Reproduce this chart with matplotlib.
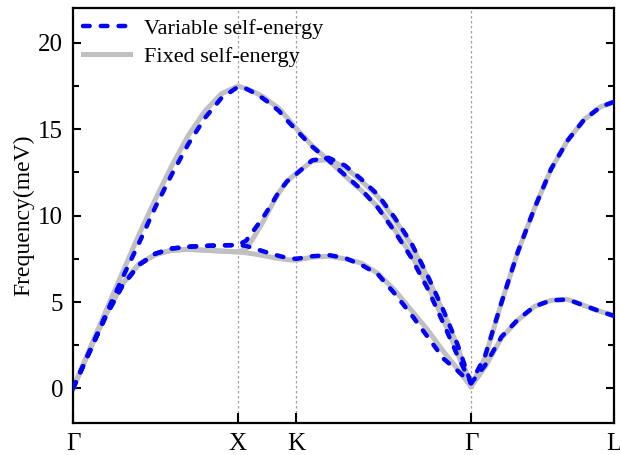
import matplotlib
matplotlib.use("Agg")
from matplotlib import pyplot as plt
import numpy as np

# high-symmetry points along the path (distance in 2pi/a)
kpts = [0.0, 1.0, 1.3536, 2.4142, 3.2802]
klabels = ['Γ', 'X', 'K', 'Γ', 'L']

# sampled path positions
q = [0.0, 0.1, 0.2, 0.3, 0.4, 0.5, 0.6, 0.7, 0.8, 0.9, 1.0,
     1.05, 1.1, 1.15, 1.2, 1.25, 1.3, 1.3536,
     1.45, 1.55, 1.65, 1.75, 1.85, 1.95, 2.05, 2.15, 2.25, 2.33, 2.4142,
     2.5, 2.6, 2.7, 2.8, 2.9, 3.0, 3.1, 3.2, 3.2802]

# fixed self-energy branches (meV); branch 2 is degenerate with branch 1 along Γ-L
fixed_b1 = [0, 2.2, 4.3, 6.05, 7.2, 7.75, 8.0, 8.05, 8.0, 7.95, 7.9,
            7.85, 7.78, 7.7, 7.6, 7.52, 7.45, 7.42,
            7.6, 7.65, 7.5, 7.25, 6.65, 5.7, 4.55, 3.4, 2.1, 1.15, 0.1,
            1.25, 2.95, 3.97, 4.75, 5.1, 5.15, 4.8, 4.45, 4.23]
fixed_b2 = [0, 2.2, 4.3, 6.05, 7.2, 7.75, 8.0, 8.05, 8.0, 7.95, 7.9,
            8.05, 8.8, 9.6, 10.5, 11.35, 12.0, 12.45,
            13.15, 13.25, 12.8, 12.0, 11.1, 9.8, 8.35, 6.45, 4.35, 2.5, 0.1]
fixed_b3 = [0, 2.25, 4.5, 6.7, 8.9, 10.95, 12.9, 14.65, 16.05, 17.05, 17.5,
            17.35, 17.15, 16.9, 16.55, 16.2, 15.65, 15.05,
            14.05, 13.2, 12.3, 11.45, 10.5, 9.2, 7.75, 6.0, 3.9, 2.1, 0.1,
            1.8, 5.0, 7.95, 10.45, 12.7, 14.35, 15.55, 16.3, 16.58]

# variable self-energy branches (meV)
var_b1 = [0, 2.1, 4.2, 5.95, 7.15, 7.8, 8.1, 8.2, 8.25, 8.28, 8.3,
          8.25, 8.1, 7.95, 7.8, 7.67, 7.55, 7.5,
          7.65, 7.72, 7.55, 7.15, 6.6, 5.5, 4.3, 3.0, 1.7, 1.05, 0.3,
          1.35, 3.0, 4.0, 4.75, 5.1, 5.15, 4.8, 4.45, 4.2]
var_b2 = [0, 2.1, 4.2, 5.95, 7.15, 7.8, 8.1, 8.2, 8.25, 8.28, 8.3,
          8.55, 9.2, 9.85, 10.6, 11.4, 12.0, 12.4,
          13.2, 13.35, 12.9, 12.1, 11.2, 9.9, 8.45, 6.55, 4.45, 2.6, 0.3]
var_b3 = [0, 2.15, 4.3, 6.4, 8.4, 10.5, 12.4, 14.15, 15.65, 16.8, 17.45,
          17.35, 17.1, 16.8, 16.45, 16.05, 15.5, 14.95,
          14.0, 13.2, 12.35, 11.5, 10.45, 9.1, 7.6, 5.8, 3.7, 1.95, 0.3,
          1.9, 5.0, 7.95, 10.45, 12.7, 14.35, 15.55, 16.3, 16.58]

plt.rcParams['font.family'] = ['Liberation Serif', 'DejaVu Serif']

fig = plt.figure(figsize=(6.2, 4.55), dpi=100)
ax = fig.add_axes([0.1177, 0.0703, 0.8723, 0.9115])

for xv in kpts[1:-1]:
    ax.axvline(xv, color='#a0a0a0', lw=0.9, ls=(0, (2, 2)), zorder=1)

for i, b in enumerate([fixed_b1, fixed_b2, fixed_b3]):
    ax.plot(q[:len(b)], b, color='#c0c0c0', lw=3.6, solid_joinstyle='round',
            label='Fixed self-energy' if i == 0 else None, zorder=2)
for i, b in enumerate([var_b1, var_b2, var_b3]):
    ax.plot(q[:len(b)], b, color='#0000ff', lw=3.2, ls=(0, (1.5, 2.5)),
            dash_capstyle='round', dash_joinstyle='round',
            label='Variable self-energy' if i == 0 else None, zorder=3)

ax.set_xlim(kpts[0], kpts[-1])
ax.set_ylim(-2, 22)
ax.set_xticks(kpts)
ax.set_xticklabels(klabels, fontsize=18)
ax.set_yticks([0, 5, 10, 15, 20])
ax.set_yticks(np.arange(0, 22, 2.5), minor=True)
ax.tick_params(axis='y', which='both', direction='in', left=True, right=True,
               labelsize=18, width=1.5, pad=7)
ax.tick_params(axis='y', which='major', length=6)
ax.tick_params(axis='y', which='minor', length=4)
ax.tick_params(axis='x', direction='in', length=7, width=1.5, pad=7)
ax.set_ylabel('Frequency(meV)', fontsize=17, labelpad=3)
for s in ax.spines.values():
    s.set_linewidth(1.6)

h, l = ax.get_legend_handles_labels()
ax.legend(h[::-1], l[::-1], loc='upper left', frameon=False, fontsize=16,
          handlelength=2.1, handletextpad=0.65, labelspacing=0.35,
          borderaxespad=0.25, borderpad=0.2)

fig.savefig('out.png', dpi=100)
